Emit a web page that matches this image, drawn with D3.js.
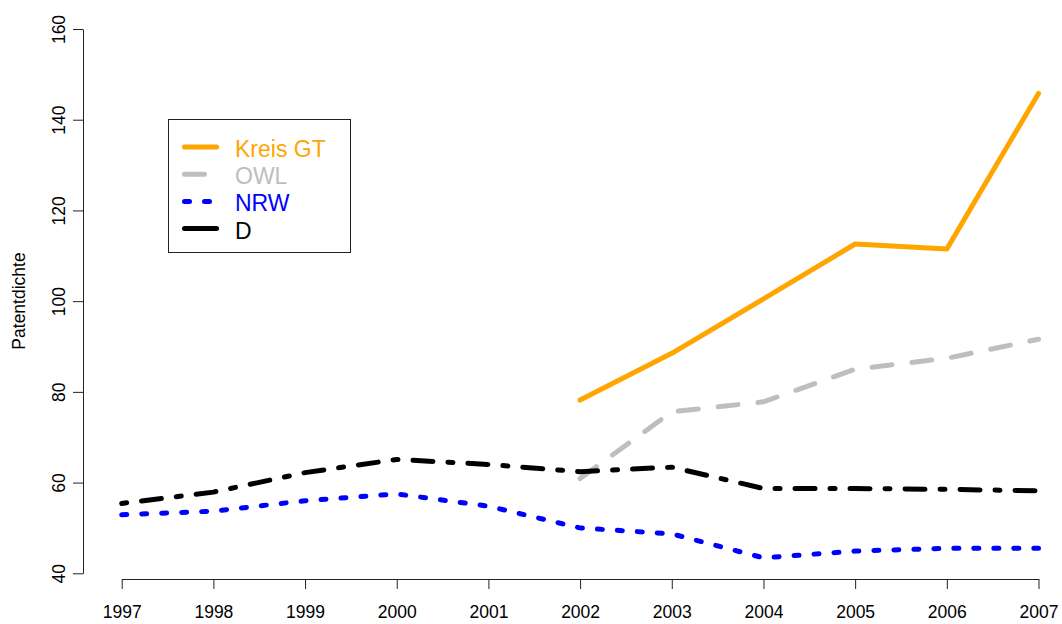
<!DOCTYPE html>
<html>
<head>
<meta charset="utf-8">
<script src="https://cdn.jsdelivr.net/npm/d3@7"></script>
<style>
  html, body { margin: 0; padding: 0; background: #fff; }
  svg { display: block; font-family: "Liberation Sans", Arial, Helvetica, sans-serif; }
</style>
</head>
<body>
<svg id="chart" width="1062" height="624"></svg>
<script>
// ---- data ----
const years = [1997, 1998, 1999, 2000, 2001, 2002, 2003, 2004, 2005, 2006, 2007];
const kreisGT = [null, null, null, null, null, 78.2, 88.5, 100.5, 112.6, 111.5, 145.8];
const owl     = [null, null, null, null, null, 60.9, 75.6, 77.8, 85.0, 87.4, 91.6];
const nrw     = [52.9, 53.7, 56.0, 57.5, 54.8, 50.0, 48.7, 43.4, 44.9, 45.5, 45.5];
const deu     = [55.4, 57.9, 62.2, 65.1, 64.0, 62.4, 63.4, 58.7, 58.7, 58.5, 58.2];
const seriesNames = ["Kreis GT", "OWL", "NRW", "D"];
const yTicks = [40, 60, 80, 100, 120, 140, 160];
const yLabel = "Patentdichte";

// ---- styles ----
const styles = [
  { color: "#FFA500", dash: null,          legendDash: null },
  { color: "#BEBEBE", dash: "20,20",       legendDash: "20,20" },
  { color: "#0000FF", dash: "5,15",        legendDash: "5,15" },
  { color: "#000000", dash: "5,15,20,15",  legendDash: null }
];
const seriesValues = [kreisGT, owl, nrw, deu];

const svg = d3.select("#chart");
const x = d3.scaleLinear().domain([1997, 2007]).range([121.7, 1038.5]);
const y = d3.scaleLinear().domain([40, 160]).range([573.3, 29]);

// axes
const xAxis = d3.axisBottom(x).tickValues(years).tickFormat(d3.format("d"))
  .tickSize(10).tickSizeOuter(0).tickPadding(17);
const gx = svg.append("g").attr("transform", "translate(0,579)").call(xAxis);
gx.selectAll("text").style("font-size", "17.5px").attr("fill", "#000");
gx.selectAll("line,path").attr("stroke", "#222");

const yAxis = d3.axisLeft(y).tickValues(yTicks).tickSize(10).tickSizeOuter(0);
const gy = svg.append("g").attr("transform", "translate(83,0)").call(yAxis);
gy.selectAll("text")
  .style("font-size", "17.5px").attr("fill", "#000")
  .attr("x", null).attr("dy", null)
  .attr("text-anchor", "middle")
  .attr("transform", "translate(-18.5,0) rotate(-90)");
gy.selectAll("line,path").attr("stroke", "#222");

svg.append("text")
  .attr("transform", "translate(25,301) rotate(-90)")
  .attr("text-anchor", "middle")
  .style("font-size", "17.5px")
  .text(yLabel);

// lines
const line = d3.line()
  .defined(d => d.v != null)
  .x(d => x(d.year))
  .y(d => y(d.v));

seriesValues.forEach((vals, i) => {
  const data = years.map((yr, j) => ({ year: yr, v: vals[j] }));
  svg.append("path")
    .datum(data)
    .attr("d", line)
    .attr("fill", "none")
    .attr("stroke", styles[i].color)
    .attr("stroke-width", 5)
    .attr("stroke-linecap", "round")
    .attr("stroke-linejoin", "round")
    .attr("stroke-dasharray", styles[i].dash);
});

// legend
const lg = svg.append("g");
lg.append("rect")
  .attr("x", 168.5).attr("y", 119.5).attr("width", 182).attr("height", 133)
  .attr("fill", "none").attr("stroke", "#222").attr("stroke-width", 1);
seriesNames.forEach((name, i) => {
  const ly = 147 + i * 27.2;
  lg.append("line")
    .attr("x1", 184.5).attr("x2", 216.5).attr("y1", ly).attr("y2", ly)
    .attr("stroke", styles[i].color)
    .attr("stroke-width", 5)
    .attr("stroke-linecap", "round")
    .attr("stroke-dasharray", styles[i].legendDash);
  lg.append("text")
    .attr("x", 235).attr("y", ly + 10)
    .style("font-size", "23px")
    .attr("fill", styles[i].color)
    .text(name);
});
</script>
</body>
</html>
